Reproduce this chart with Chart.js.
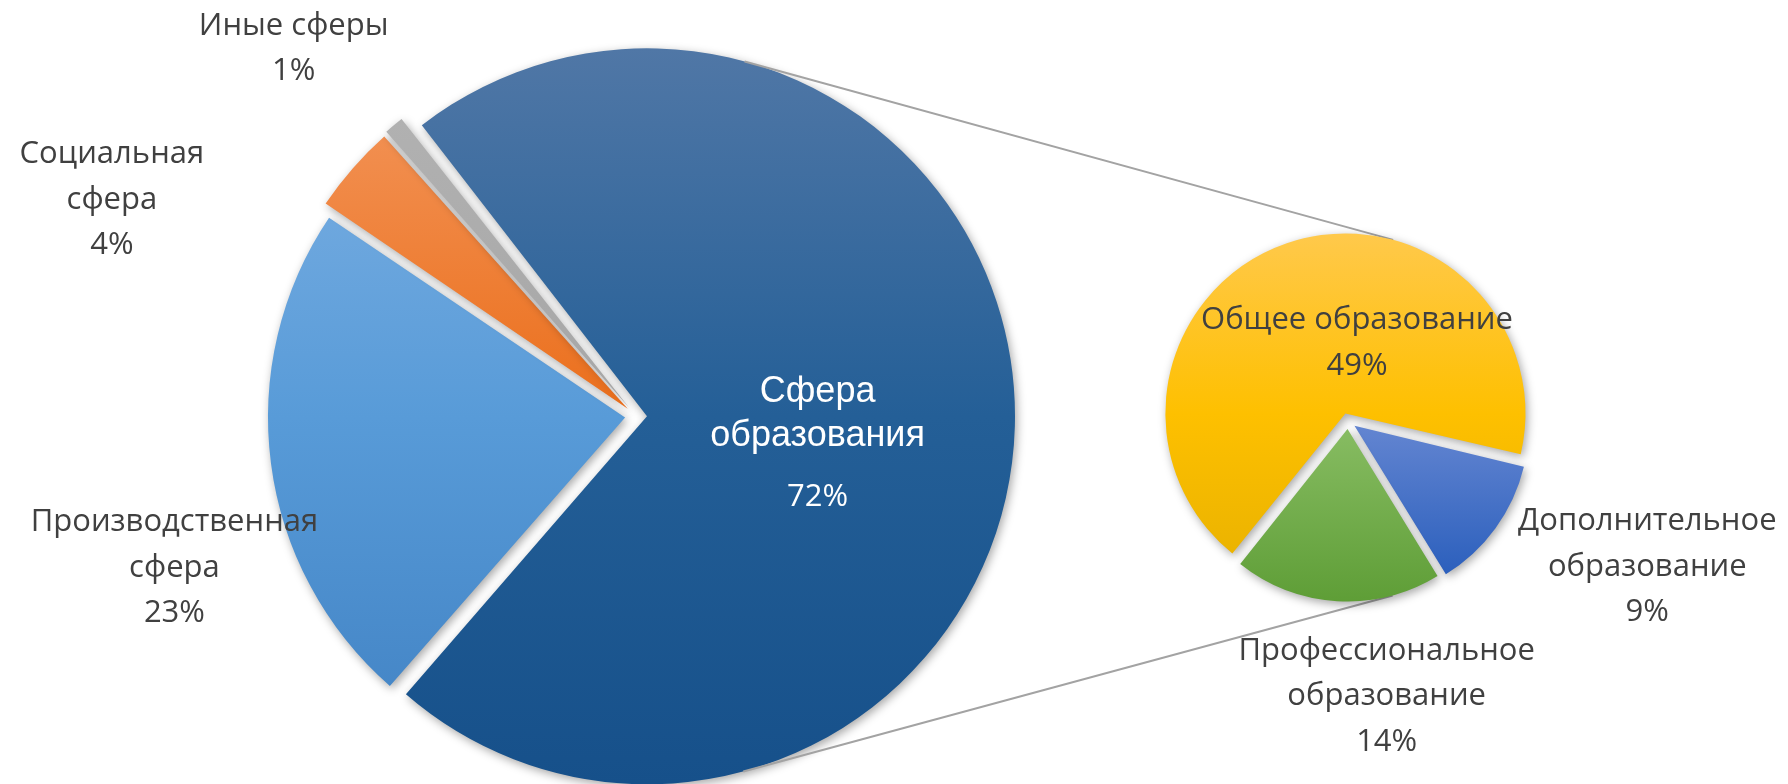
<!DOCTYPE html>
<html>
<head>
<meta charset="utf-8">
<script src="https://cdn.jsdelivr.net/npm/chart.js@4.4.0/dist/chart.umd.min.js"></script>
<style>
  html, body { margin: 0; padding: 0; background: #fff; }
  #wrap { position: relative; width: 1788px; height: 784px; }
  #wrap canvas { position: absolute; left: 0; top: 0; }
</style>
</head>
<body>
<div id="wrap">
  <canvas id="main-pie" width="1788" height="784"></canvas>
  <canvas id="sub-pie" width="1788" height="784"></canvas>
</div>
<script>
// Основная диаграмма: сферы
const mainLabels = [["Сфера", "образования"], ["Производственная", "сфера"], ["Социальная", "сфера"], ["Иные сферы"]];
const mainValues = [72, 23, 4, 1];

// Вторичная диаграмма: разбивка сферы образования
const subLabels = [["Общее образование"], ["Дополнительное", "образование"], ["Профессиональное", "образование"]];
const subValues = [49, 9, 14];

// цвета: верх, середина, низ градиента
const mainColors = [
  ["#5077A6", "#245F97", "#16508A"],
  ["#80B2E4", "#589BD8", "#3F80C2"],
  ["#F49A62", "#EB6F1C", "#DA5E08"],
  ["#B4B4B4", "#A6A6A6", "#989898"]
];
const subColors = [
  ["#FFC94C", "#FEC000", "#E6B000"],
  ["#8AA5E0", "#6385D1", "#1F57B8"],
  ["#A8D088", "#87BC62", "#5C9C34"]
];

// положение подписей: сдвиг от середины сектора (градусы), расстояние в радиусах
const mainLabelPos = [[7.4, 0.515], [-10.8, 1.361], [-18.8, 1.588], [-3.2, 1.406]];
const subLabelPos = [[25.6, 0.456], [-10, 1.936], [-11.5, 1.616]];

const mainTotal = mainValues.reduce((a, b) => a + b, 0);

const darkStyle = { nameFont: "31px 'Open Sans'", pctFont: "31px 'Open Sans'", color: "#404040", lineH: 45.5, pctGap: 45.5 };
const innerStyle = { nameFont: "36px 'Liberation Sans'", pctFont: "31px 'Open Sans'", color: "#ffffff", lineH: 44, pctGap: 61 };

function sliceGradient(colors, spread) {
  return function (c) {
    const area = c.chart.chartArea;
    const stops = colors[c.dataIndex] || colors[0];
    if (!area) return stops[1];
    const cy = (area.top + area.bottom) / 2;
    const g = c.chart.ctx.createLinearGradient(0, cy - spread, 0, cy + spread);
    g.addColorStop(0, stops[0]);
    g.addColorStop(0.5, stops[1]);
    g.addColorStop(1, stops[2]);
    return g;
  };
}

// круг, который реально рисует сектор с учётом offset
function sliceCircle(arc) {
  const t = (arc.options.offset || 0) / 4;
  const mid = (arc.startAngle + arc.endAngle) / 2;
  const fix = 1 - Math.sin(Math.min(Math.PI, arc.circumference));
  return { x: arc.x + Math.cos(mid) * t, y: arc.y + Math.sin(mid) * t, r: arc.outerRadius + t * fix };
}

const shadowPlugin = {
  id: "shadow",
  beforeDatasetsDraw(chart) {
    const ctx = chart.ctx;
    ctx.save();
    ctx.shadowColor = "rgba(0,0,0,0.35)";
    ctx.shadowBlur = 10;
    ctx.shadowOffsetX = 2;
    ctx.shadowOffsetY = 3;
  },
  afterDatasetsDraw(chart) {
    chart.ctx.restore();
  }
};

function labelsPlugin(names, values, pos, styleFor) {
  return {
    id: "sliceLabels",
    afterDraw(chart) {
      const ctx = chart.ctx;
      const arcs = chart.getDatasetMeta(0).data;
      ctx.save();
      ctx.textAlign = "center";
      ctx.textBaseline = "middle";
      arcs.forEach((arc, i) => {
        const st = styleFor(i);
        const ang = (arc.startAngle + arc.endAngle) / 2 + pos[i][0] * Math.PI / 180;
        const d = arc.outerRadius * pos[i][1];
        const x = arc.x + Math.cos(ang) * d;
        const y = arc.y + Math.sin(ang) * d;
        const lines = names[i];
        const span = (lines.length - 1) * st.lineH + st.pctGap;
        const y0 = y - span / 2;
        ctx.fillStyle = st.color;
        ctx.font = st.nameFont;
        lines.forEach((t, k) => ctx.fillText(t, x, y0 + k * st.lineH));
        ctx.font = st.pctFont;
        ctx.fillText(Math.round(values[i] / mainTotal * 100) + "%", x, y0 + (lines.length - 1) * st.lineH + st.pctGap);
      });
      ctx.restore();
    }
  };
}

const mainChart = new Chart(document.getElementById("main-pie"), {
  type: "pie",
  data: {
    labels: mainLabels,
    datasets: [{
      data: mainValues,
      backgroundColor: sliceGradient(mainColors, 368),
      borderWidth: 0,
      offset: 44,
      radius: 357,
      rotation: -38,
      clip: false
    }]
  },
  options: {
    responsive: false,
    animation: false,
    events: [],
    devicePixelRatio: 1,
    layout: { padding: { left: 0, right: 516, top: 48, bottom: 0 } },
    plugins: { legend: { display: false }, tooltip: { enabled: false } }
  },
  plugins: [shadowPlugin, labelsPlugin(mainLabels, mainValues, mainLabelPos, i => i === 0 ? innerStyle : darkStyle)]
});

// касательные линии между сектором «Сфера образования» и вторичной диаграммой
function tangentLine(a, b, s) {
  const dx = b.x - a.x, dy = b.y - a.y;
  const dist = Math.hypot(dx, dy);
  const ux = dx / dist, uy = dy / dist;
  const cos = (a.r - b.r) / dist, sin = Math.sqrt(1 - cos * cos);
  const nx = ux * cos - s * uy * sin;
  const ny = uy * cos + s * ux * sin;
  return [a.x + a.r * nx, a.y + a.r * ny, b.x + b.r * nx, b.y + b.r * ny];
}

const connectorPlugin = {
  id: "connectors",
  beforeDatasetsDraw(chart) {
    const big = sliceCircle(mainChart.getDatasetMeta(0).data[0]);
    const arcs = chart.getDatasetMeta(0).data;
    const top = tangentLine(big, sliceCircle(arcs[0]), -1);
    const bottom = tangentLine(big, sliceCircle(arcs[2]), 1);
    const ctx = chart.ctx;
    ctx.save();
    ctx.strokeStyle = "#A3A3A3";
    ctx.lineWidth = 2;
    [top, bottom].forEach(l => {
      ctx.beginPath();
      ctx.moveTo(l[0], l[1]);
      ctx.lineTo(l[2], l[3]);
      ctx.stroke();
    });
    ctx.restore();
  }
};

new Chart(document.getElementById("sub-pie"), {
  type: "pie",
  data: {
    labels: subLabels,
    datasets: [{
      data: subValues,
      backgroundColor: sliceGradient(subColors, 182),
      borderWidth: 0,
      offset: 32,
      radius: 172,
      rotation: 218.5,
      clip: false
    }]
  },
  options: {
    responsive: false,
    animation: false,
    events: [],
    devicePixelRatio: 1,
    layout: { padding: { left: 908, right: 0, top: 58, bottom: 0 } },
    plugins: { legend: { display: false }, tooltip: { enabled: false } }
  },
  plugins: [connectorPlugin, shadowPlugin, labelsPlugin(subLabels, subValues, subLabelPos, () => darkStyle)]
});
</script>
</body>
</html>
